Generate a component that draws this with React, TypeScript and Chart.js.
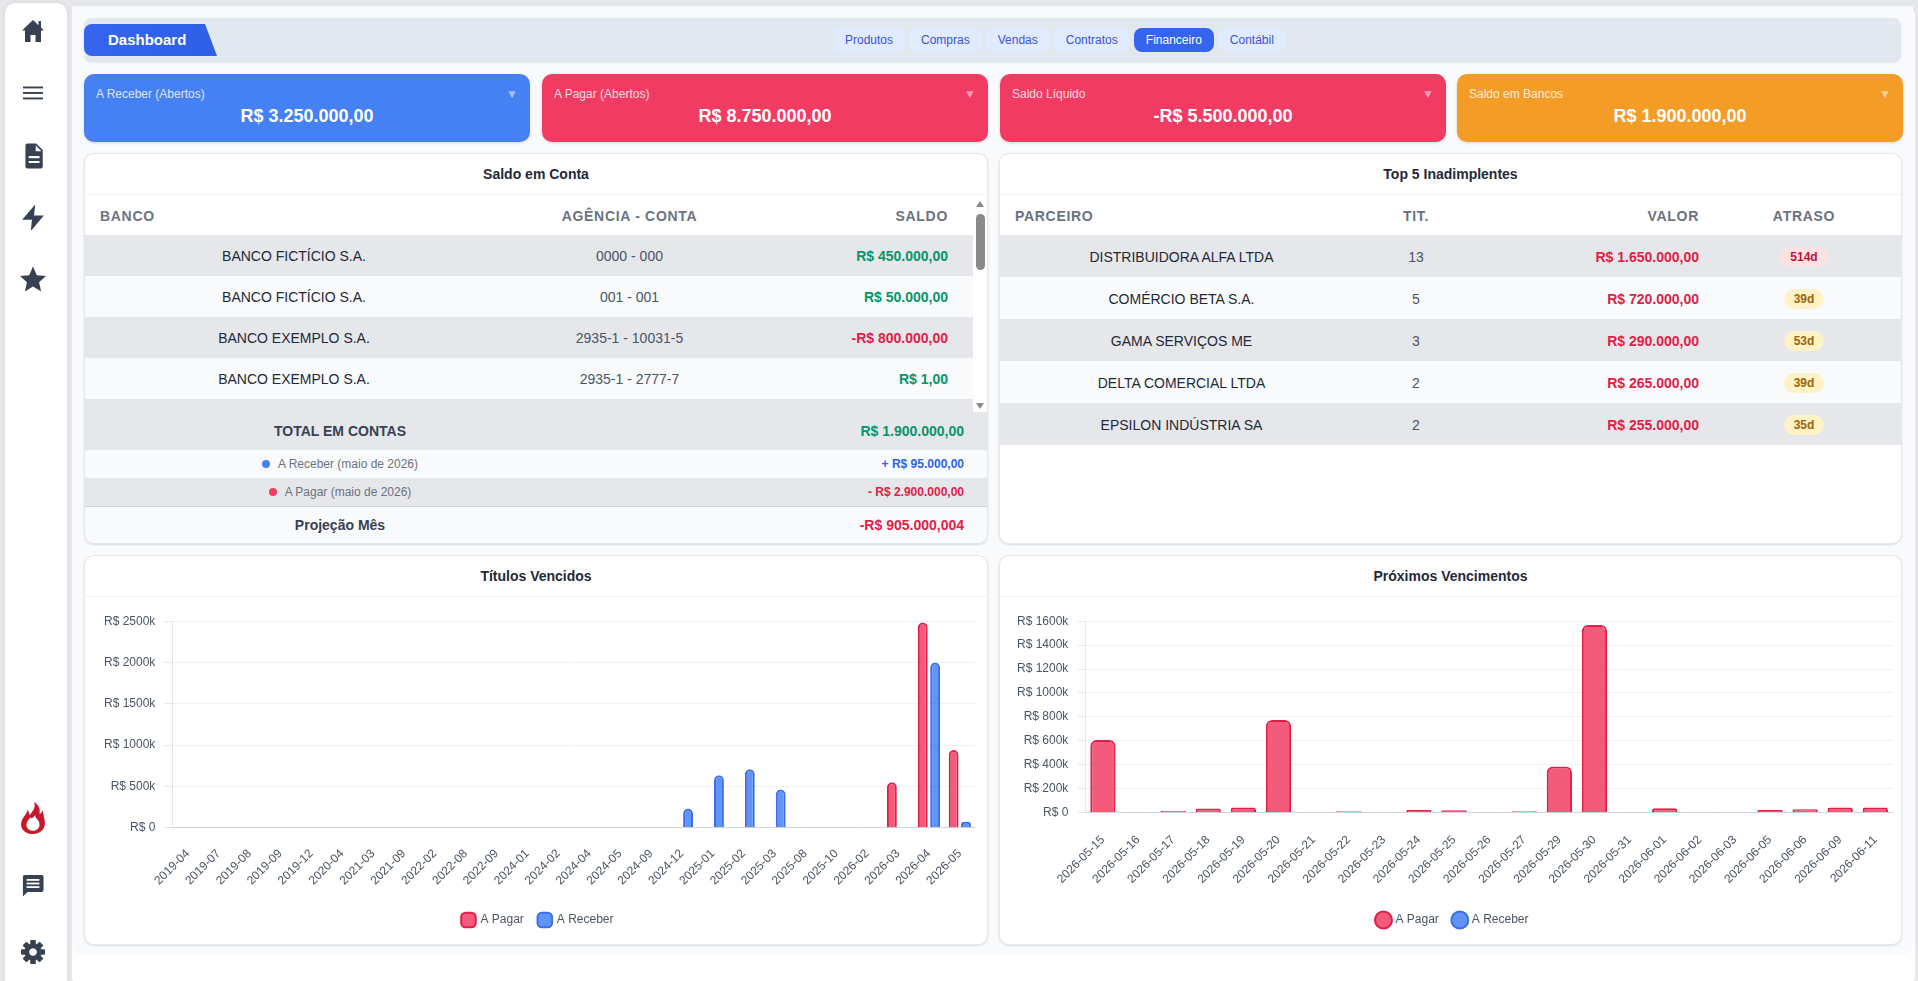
import React, { useEffect, useRef } from "react";
import { Chart, registerables } from "chart.js";

Chart.register(...registerables);

const FONT = "'Liberation Sans', Arial, sans-serif";

const overdueLabels = ["2019-04","2019-07","2019-08","2019-09","2019-12","2020-04","2021-03","2021-09","2022-02","2022-08","2022-09","2024-01","2024-02","2024-04","2024-05","2024-09","2024-12","2025-01","2025-02","2025-03","2025-08","2025-10","2026-02","2026-03","2026-04","2026-05"];
const overduePagar = [0,0,0,0,0,0,0,0,0,0,0,0,6000,6000,6000,0,0,0,0,0,0,6000,2000,549000,2484000,939000];
const overdueReceber = [0,0,0,0,0,0,0,0,0,0,0,0,0,0,0,0,232000,634000,707000,463000,0,0,0,0,2000000,73000];
const overdueTicks = [0, 500000, 1000000, 1500000, 2000000, 2500000];

const upcomingLabels = ["2026-05-15","2026-05-16","2026-05-17","2026-05-18","2026-05-19","2026-05-20","2026-05-21","2026-05-22","2026-05-23","2026-05-24","2026-05-25","2026-05-26","2026-05-27","2026-05-29","2026-05-30","2026-05-31","2026-06-01","2026-06-02","2026-06-03","2026-06-05","2026-06-06","2026-06-09","2026-06-11"];
const upcomingPagar = [606000,0,11000,33000,42000,773000,2000,10000,2000,20000,18000,0,10000,385000,1569000,0,34000,2000,2000,20000,26000,42000,42000];
const upcomingReceber = [0,0,0,0,0,0,0,0,0,0,0,0,0,0,0,0,0,0,0,0,0,0,0];
const upcomingTicks = [0,200000,400000,600000,800000,1000000,1200000,1400000,1600000];

const seriesNames = ["A Pagar", "A Receber"];

const tabs = ["Produtos","Compras","Vendas","Contratos","Financeiro","Contábil"];
const kpis = [
  ["A Receber (Abertos)","R$ 3.250.000,00","#4681f4"],
  ["A Pagar (Abertos)","R$ 8.750.000,00","#f23b63"],
  ["Saldo Líquido","-R$ 5.500.000,00","#f23b63"],
  ["Saldo em Bancos","R$ 1.900.000,00","#f39c26"],
];
const bankRows = [
  ["BANCO FICTÍCIO S.A.","0000 - 000","R$ 450.000,00",1],
  ["BANCO FICTÍCIO S.A.","001 - 001","R$ 50.000,00",1],
  ["BANCO EXEMPLO S.A.","2935-1 - 10031-5","-R$ 800.000,00",0],
  ["BANCO EXEMPLO S.A.","2935-1 - 2777-7","R$ 1,00",1],
];
const debtorRows = [
  ["DISTRIBUIDORA ALFA LTDA","13","R$ 1.650.000,00","514d",1],
  ["COMÉRCIO BETA S.A.","5","R$ 720.000,00","39d",0],
  ["GAMA SERVIÇOS ME","3","R$ 290.000,00","53d",0],
  ["DELTA COMERCIAL LTDA","2","R$ 265.000,00","39d",0],
  ["EPSILON INDÚSTRIA SA","2","R$ 255.000,00","35d",0],
];

const GREEN = "#059669";
const RED = "#e11d48";
const DARK = "#1f2937";
const abs = (left: number, top: number, width: number, height: number, extra: any = {}): any => ({
  position: "absolute", left, top, width, height, boxSizing: "border-box", ...extra,
});

function BarChart({ labels, pagar, receber, ticks, stacked, pointStyle, radius, barPct, catPct, w, h, xPad }: any) {
  const ref = useRef<HTMLCanvasElement>(null);
  useEffect(() => {
    const chart = new Chart(ref.current!, {
      type: "bar",
      data: {
        labels,
        datasets: [
          { label: seriesNames[0], data: pagar, backgroundColor: "rgba(241,62,100,0.85)", borderColor: "#e11d48", borderWidth: 2, borderRadius: radius, barPercentage: barPct, categoryPercentage: catPct },
          { label: seriesNames[1], data: receber, backgroundColor: "rgba(70,129,244,0.85)", borderColor: "#3b6eea", borderWidth: 2, borderRadius: radius, barPercentage: barPct, categoryPercentage: catPct },
        ],
      },
      options: {
        animation: false,
        responsive: false,
        devicePixelRatio: 1,
        plugins: {
          tooltip: { enabled: false },
          legend: {
            position: "bottom",
            labels: { usePointStyle: true, pointStyle, color: "#4b5563", font: { family: FONT, size: 12 }, boxWidth: 12, padding: 15 },
          },
        },
        scales: {
          x: {
            stacked,
            grid: { display: false },
            border: { color: "#d1d5db", width: 1 },
            ticks: { color: "#4b5563", font: { family: FONT, size: 12 }, minRotation: 45, maxRotation: 45, autoSkip: false, padding: xPad },
          },
          y: {
            stacked,
            min: 0,
            max: ticks[ticks.length - 1],
            afterBuildTicks: (axis: any) => { axis.ticks = ticks.map((value: number) => ({ value })); },
            grid: { color: "#f0f1f3", tickColor: "#e5e7eb" },
            border: { color: "#e5e7eb" },
            ticks: {
              color: "#4b5563",
              font: { family: FONT, size: 12 },
              padding: 9,
              callback: (v: any) => (v === 0 ? "R$ 0" : `R$ ${v / 1000}k`),
            },
          },
        },
      },
    } as any);
    return () => chart.destroy();
  }, []);
  return <canvas ref={ref} width={w} height={h} style={{ display: "block", width: w, height: h }} />;
}

function Sidebar() {
  return (
    <div style={abs(5, 3, 62, 990, { background: "#fff", borderRadius: 10, boxShadow: "0 0 4px rgba(0,0,0,.08)" })}>
      <svg viewBox="0 0 24 24" style={abs(16, 16, 24, 24)} fill="#374151"><path d="M12 1 L1 11.5 L4 11.5 L4 23 L9.5 23 L9.5 16 L14.5 16 L14.5 23 L20 23 L20 11.5 L23 11.5 L20 8.6 L20 2 L17.5 2 L17.5 6.2 Z" /></svg>
      <svg viewBox="0 0 24 24" style={abs(16, 78, 24, 24)} fill="#374151"><rect x="2" y="5.5" width="20" height="1.9" /><rect x="2" y="11" width="20" height="1.9" /><rect x="2" y="16.5" width="20" height="1.9" /></svg>
      <svg viewBox="0 0 24 24" style={abs(15, 140, 26, 26)} fill="#374151"><path fillRule="evenodd" d="M7 0.5 H15 L21 6.5 V21.5 Q21 23.5 19 23.5 H7 Q5 23.5 5 21.5 V2.5 Q5 0.5 7 0.5 Z M14.5 2 V7.5 H19.8 Z M8 12 V14 H18 V12 Z M8 16.5 V18.5 H18 V16.5 Z" /></svg>
      <svg viewBox="0 0 24 24" style={abs(15, 201, 26, 26)} fill="#374151"><path d="M14 0.5 L2 14.5 H11 L10 25 L22 10.5 H13 Z" /></svg>
      <svg viewBox="0 0 24 24" style={abs(15, 263, 26, 26)} fill="#374151"><path d="M12 0.5 L15.5 8.5 L24 9.3 L17.6 15 L19.5 23.5 L12 19 L4.5 23.5 L6.4 15 L0 9.3 L8.5 8.5 Z" /></svg>
      <svg viewBox="0 0 24 24" style={abs(15, 799, 26, 32)} preserveAspectRatio="none"><path fill="#c8182e" fillRule="evenodd" d="M13 0 C15 5 11 7 9 10 C8.5 8 8 7 7 6 C6 10 1 12 1 17 C1 21 6 24 12 24 C18 24 23 21 23 16 C23 12 21 9 21 6 C20 8 19 9 18 9 C19 5 17 2 13 0 Z M12 21.5 C8.5 21.5 6 19.5 6 17 C6 14.5 8.5 13.5 9.5 11.5 C11 13.5 12.5 11 14 10 C14 13 18 13 18 17 C18 19.5 15.5 21.5 12 21.5 Z" /></svg>
      <svg viewBox="0 0 24 24" style={abs(17, 870, 22, 24)} preserveAspectRatio="none"><path fill="#374151" d="M2.5 2 H21.5 Q23.5 2 23.5 4 V17 Q23.5 19 21.5 19 H6 L1 23.5 V3.5 Q1 2 2.5 2 Z" /><rect x="5" y="6" width="14" height="1.8" fill="#fff" /><rect x="5" y="9.6" width="14" height="1.8" fill="#fff" /><rect x="5" y="13.2" width="14" height="1.8" fill="#fff" /></svg>
      <svg viewBox="0 0 24 24" style={abs(16, 937, 24, 24)} fill="#374151">
        {[0,45,90,135,180,225,270,315].map((a) => <rect key={a} x="9.2" y="0" width="5.6" height="6" rx="1" transform={`rotate(${a} 12 12)`} />)}
        <path fillRule="evenodd" d="M12 3.5 A8.5 8.5 0 1 1 11.99 3.5 Z M12 8.2 A3.8 3.8 0 1 0 12.01 8.2 Z" />
      </svg>
    </div>
  );
}

const cardStyle = { background: "#fff", borderRadius: 10, border: "1px solid #e5e7eb", boxShadow: "0 1px 2px rgba(0,0,0,.12)", overflow: "hidden" };
const center = { display: "flex", alignItems: "center", justifyContent: "center", whiteSpace: "nowrap" };

function CardTitle({ text }: { text: string }) {
  return <div style={{ height: 41, borderBottom: "1px solid #f1f3f5", fontSize: 14, fontWeight: 700, color: DARK, ...center, boxSizing: "border-box" } as any}>{text}</div>;
}

const thStyle: any = { fontSize: 14, fontWeight: 700, color: "#6b7280", letterSpacing: 0.7, whiteSpace: "nowrap" };

export default function App() {
  useEffect(() => {
    document.body.style.margin = "0";
    document.body.style.background = "#e5e7eb";
    document.body.style.overflow = "hidden";
  }, []);
  return (
    <div style={{ position: "relative", width: 1918, height: 981, overflow: "hidden", fontFamily: FONT, background: "#e5e7eb" }}>
      <Sidebar />
      <div style={abs(72, 6, 1843, 980, { background: "#fff", borderRadius: 10 })} />
      <div style={abs(72, 6, 1841, 949, { background: "#f8fafc", borderRadius: "0 0 10px 10px" })} />

      <div style={abs(84, 18, 1817, 44, { background: "#e2e8f0", borderRadius: 8, boxShadow: "0 1px 2px rgba(0,0,0,.08)" })} />
      <div style={abs(84, 24, 133, 32, { background: "linear-gradient(90deg,#3565ee,#2f5fe6)", borderRadius: "8px 0 0 8px", clipPath: "polygon(0 0, 121px 0, 133px 100%, 0 100%)", color: "#fff", fontSize: 15, fontWeight: 700, paddingLeft: 24, lineHeight: "32px" })}>Dashboard</div>
      <div style={{ position: "absolute", left: 833, top: 28, height: 24, display: "flex", gap: 4 }}>
        {tabs.map((t) => (
          <div key={t} style={{ height: 24, lineHeight: "24px", fontSize: 12, padding: "0 12px", borderRadius: 8, background: t === "Financeiro" ? "#3565ee" : "#e0ebfd", color: t === "Financeiro" ? "#fff" : "#3f51d8" }}>{t}</div>
        ))}
      </div>

      {kpis.map(([title, value, color], i) => (
        <div key={i} style={abs([84, 542, 1000, 1457][i], 74, 446, 68, { background: color, borderRadius: 10, color: "#fff", boxShadow: "0 1px 3px rgba(0,0,0,.15)" })}>
          <div style={{ position: "absolute", left: 12, top: 13, fontSize: 12, opacity: 0.8 }}>{title}</div>
          <div style={{ position: "absolute", right: 12, top: 13, fontSize: 12, opacity: 0.5 }}>▼</div>
          <div style={{ position: "absolute", left: 0, right: 0, top: 32, textAlign: "center", fontSize: 18, fontWeight: 700 }}>{value}</div>
        </div>
      ))}

      {/* Saldo em Conta */}
      <div style={abs(84, 153, 904, 391, cardStyle)}>
        <CardTitle text="Saldo em Conta" />
        <div style={abs(15, 52, 300, 20, { ...thStyle, lineHeight: "20px" })}>BANCO</div>
        <div style={abs(419, 52, 251, 20, { ...thStyle, ...center })}>AGÊNCIA - CONTA</div>
        <div style={abs(640, 52, 223, 20, { ...thStyle, lineHeight: "20px", textAlign: "right" })}>SALDO</div>
        {bankRows.map((r, i) => (
          <div key={i} style={abs(-1, 81 + i * 41, 889, 41, { background: i % 2 ? "#f8fafc" : "#e5e7eb", fontSize: 14 })}>
            <div style={{ ...abs(0, 0, 420, 41), ...center, color: DARK } as any}>{r[0]}</div>
            <div style={{ ...abs(420, 0, 251, 41), ...center, color: "#4b5563" } as any}>{r[1]}</div>
            <div style={{ ...abs(671, 0, 193, 41), ...center, justifyContent: "flex-end", color: r[3] ? GREEN : RED, fontWeight: 700 } as any}>{r[2]}</div>
          </div>
        ))}
        <div style={abs(-1, 245, 889, 14, { background: "#e5e7eb" })} />
        {/* scrollbar */}
        <div style={abs(888, 41, 15, 218, { background: "#fff" })}>
          <div style={abs(3, 6, 0, 0, { borderLeft: "4px solid transparent", borderRight: "4px solid transparent", borderBottom: "6px solid #8a8a8a" })} />
          <div style={abs(3, 19, 9, 56, { background: "#8a8a8a", borderRadius: 5 })} />
          <div style={abs(3, 208, 0, 0, { borderLeft: "4px solid transparent", borderRight: "4px solid transparent", borderTop: "6px solid #8a8a8a" })} />
        </div>
        <div style={abs(-1, 258, 905, 38, { background: "#e5e7eb" })}>
          <div style={{ ...abs(0, 0, 512, 38), ...center, fontSize: 14, fontWeight: 700, color: "#374151" } as any}>TOTAL EM CONTAS</div>
          <div style={{ ...abs(600, 0, 280, 38), ...center, justifyContent: "flex-end", fontSize: 14, fontWeight: 700, color: GREEN } as any}>R$ 1.900.000,00</div>
        </div>
        <div style={abs(-1, 296, 905, 28, { background: "#f8fafc" })}>
          <div style={{ ...abs(0, 0, 512, 28), ...center, fontSize: 12, color: "#6b7280" } as any}><span style={{ width: 8, height: 8, borderRadius: 4, background: "#4681f4", marginRight: 8, marginLeft: 0 }} />A Receber (maio de 2026)</div>
          <div style={{ ...abs(600, 0, 280, 28), ...center, justifyContent: "flex-end", fontSize: 12, fontWeight: 700, color: "#2f62e8" } as any}>+ R$ 95.000,00</div>
        </div>
        <div style={abs(-1, 324, 905, 28, { background: "#e5e7eb" })}>
          <div style={{ ...abs(0, 0, 512, 28), ...center, fontSize: 12, color: "#6b7280" } as any}><span style={{ width: 8, height: 8, borderRadius: 4, background: "#f23b63", marginRight: 8, marginLeft: 0 }} />A Pagar (maio de 2026)</div>
          <div style={{ ...abs(600, 0, 280, 28), ...center, justifyContent: "flex-end", fontSize: 12, fontWeight: 700, color: RED } as any}>- R$ 2.900.000,00</div>
        </div>
        <div style={abs(-1, 352, 905, 38, { background: "#f8fafc", borderTop: "1px solid #cbd5e1" })}>
          <div style={{ ...abs(0, 0, 512, 35), ...center, fontSize: 14, fontWeight: 700, color: "#374151" } as any}>Projeção Mês</div>
          <div style={{ ...abs(600, 0, 280, 35), ...center, justifyContent: "flex-end", fontSize: 14, fontWeight: 700, color: RED } as any}>-R$ 905.000,004</div>
        </div>
      </div>

      {/* Top 5 */}
      <div style={abs(999, 153, 903, 391, cardStyle)}>
        <CardTitle text="Top 5 Inadimplentes" />
        <div style={abs(15, 52, 300, 20, { ...thStyle, lineHeight: "20px" })}>PARCEIRO</div>
        <div style={abs(364, 52, 104, 20, { ...thStyle, ...center })}>TIT.</div>
        <div style={abs(468, 52, 231, 20, { ...thStyle, lineHeight: "20px", textAlign: "right" })}>VALOR</div>
        <div style={abs(715, 52, 178, 20, { ...thStyle, ...center })}>ATRASO</div>
        {debtorRows.map((r, i) => (
          <div key={i} style={abs(-1, 81 + i * 42, 904, 42, { background: i % 2 ? "#f8fafc" : "#e5e7eb", fontSize: 14, paddingTop: 1 })}>
            <div style={{ ...abs(0, 1, 365, 42), ...center, color: DARK } as any}>{r[0]}</div>
            <div style={{ ...abs(365, 1, 104, 42), ...center, color: "#4b5563" } as any}>{r[1]}</div>
            <div style={{ ...abs(469, 1, 231, 42), ...center, justifyContent: "flex-end", color: RED, fontWeight: 700 } as any}>{r[2]}</div>
            <div style={{ ...abs(716, 1, 178, 42), ...center } as any}>
              <span style={{ fontSize: 12, fontWeight: 700, padding: "0 10px", lineHeight: "20px", borderRadius: 10, background: r[4] ? "#fee2e2" : "#fef3c7", color: r[4] ? "#be123c" : "#a16207" }}>{r[3]}</span>
            </div>
          </div>
        ))}
      </div>

      {/* Charts */}
      <div style={abs(84, 555, 904, 390, cardStyle)}>
        <CardTitle text="Títulos Vencidos" />
        <div style={abs(10, 49, 890, 331)}>
          <BarChart labels={overdueLabels} pagar={overduePagar} receber={overdueReceber} ticks={overdueTicks} stacked={false} pointStyle="rectRounded" radius={6} barPct={0.8} catPct={0.8} w={886} h={331} xPad={11} />
        </div>
      </div>
      <div style={abs(999, 555, 903, 390, cardStyle)}>
        <CardTitle text="Próximos Vencimentos" />
        <div style={abs(8, 49, 892, 331)}>
          <BarChart labels={upcomingLabels} pagar={upcomingPagar} receber={upcomingReceber} ticks={upcomingTicks} stacked={true} pointStyle="circle" radius={6} barPct={0.9} catPct={0.8} w={890} h={331} xPad={12.5} />
        </div>
      </div>
    </div>
  );
}
